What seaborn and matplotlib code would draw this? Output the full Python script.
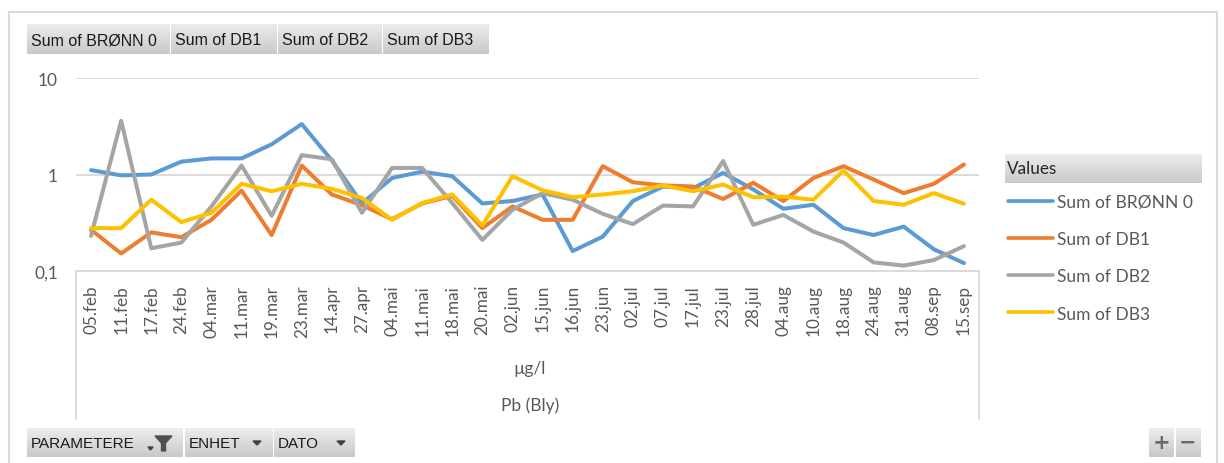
import numpy as np
import pandas as pd
import matplotlib
matplotlib.use("Agg")
import matplotlib.pyplot as plt
from matplotlib.patches import Polygon, Rectangle
from matplotlib.lines import Line2D
import seaborn as sns

# ---------------- data ----------------
dates = ['05.feb', '11.feb', '17.feb', '24.feb', '04.mar', '11.mar', '19.mar', '23.mar',
         '14.apr', '27.apr', '04.mai', '11.mai', '18.mai', '20.mai', '02.jun', '15.jun',
         '16.jun', '23.jun', '02.jul', '07.jul', '17.jul', '23.jul', '28.jul', '04.aug',
         '10.aug', '18.aug', '24.aug', '31.aug', '08.sep', '15.sep']
bronn0 = [1.11, 0.98, 1.00, 1.36, 1.47, 1.47, 2.06, 3.34, 1.40, 0.50, 0.92, 1.07, 0.96, 0.50,
          0.53, 0.62, 0.16, 0.226, 0.53, 0.75, 0.72, 1.04, 0.70, 0.44, 0.485, 0.277, 0.235,
          0.287, 0.167, 0.12]
db1 = [0.266, 0.151, 0.25, 0.223, 0.338, 0.68, 0.235, 1.24, 0.62, 0.48, 0.343, 0.50, 0.60,
       0.277, 0.466, 0.338, 0.338, 1.22, 0.83, 0.77, 0.75, 0.556, 0.82, 0.53, 0.92, 1.22,
       0.886, 0.64, 0.80, 1.27]
db2 = [0.23, 3.62, 0.171, 0.196, 0.466, 1.24, 0.372, 1.59, 1.44, 0.40, 1.17, 1.17, 0.505,
       0.209, 0.43, 0.64, 0.547, 0.39, 0.305, 0.475, 0.466, 1.38, 0.30, 0.38, 0.255, 0.196,
       0.122, 0.113, 0.129, 0.18]
db3 = [0.277, 0.277, 0.547, 0.32, 0.40, 0.80, 0.67, 0.80, 0.71, 0.57, 0.338, 0.505, 0.62,
       0.295, 0.96, 0.685, 0.58, 0.62, 0.67, 0.77, 0.67, 0.786, 0.58, 0.59, 0.547, 1.10,
       0.53, 0.485, 0.64, 0.497]
series_names = ['Sum of BRØNN 0', 'Sum of DB1', 'Sum of DB2', 'Sum of DB3']
series_colors = ['#5B9BD5', '#ED7D31', '#A5A5A5', '#FFC000']
y_ticks = [0.1, 1, 10]
y_ticklabels = ['0,1', '1', '10']
unit_label = 'µg/l'
param_label = 'Pb (Bly)'
top_buttons = series_names
bottom_buttons = ['PARAMETERE', 'ENHET', 'DATO']

df = pd.DataFrame({'idx': np.arange(len(dates)), 'dato': dates,
                   series_names[0]: bronn0, series_names[1]: db1,
                   series_names[2]: db2, series_names[3]: db3})
long = df.melt(id_vars=['idx', 'dato'], value_vars=series_names,
               var_name='serie', value_name='verdi')

# ---------------- figure ----------------
sns.set_theme(style='white')
plt.rcParams['font.family'] = ['Lato', 'DejaVu Sans']
W, H = 1224, 464
fig = plt.figure(figsize=(W / 100, H / 100), dpi=100)
fig.patch.set_facecolor('white')


def fx(x):
    return x / W


def fy(y):
    return 1 - y / H


TXT = '#595959'
GRID = '#d9d9d9'

ax_left, ax_right, ax_top, ax_bot = 76, 979, 79.3, 271.7
ax = fig.add_axes([fx(ax_left), fy(ax_bot), (ax_right - ax_left) / W, (ax_bot - ax_top) / H])

sns.lineplot(data=long, x='idx', y='verdi', hue='serie', hue_order=series_names,
             palette=series_colors, linewidth=2.9, ax=ax, legend=True, sort=False)
for ln in ax.get_lines():
    ln.set_solid_joinstyle('round')
    ln.set_solid_capstyle('round')

ax.set_yscale('log')
ax.set_ylim(0.1, 10)
ax.set_xlim(-0.5, len(dates) - 0.5)
ax.set_yticks(y_ticks)
ax.set_yticklabels(y_ticklabels)
ax.yaxis.set_minor_locator(matplotlib.ticker.NullLocator())
ax.set_xticks(np.arange(len(dates)))
ax.set_xticklabels(dates, rotation=90, va='top', ha='center')
ax.tick_params(axis='x', length=0, pad=9.5, labelsize=12.3, labelcolor=TXT)
ax.tick_params(axis='y', length=0, pad=13, labelsize=12.5, labelcolor=TXT)
ax.set_xlabel('')
ax.set_ylabel('')
ax.grid(axis='y', which='major', color=GRID, linewidth=1.3)
ax.grid(axis='x', visible=False)
for s in ax.spines.values():
    s.set_visible(False)
ax.set_facecolor('none')

# legend
handles, labels = ax.get_legend_handles_labels()
ax.get_legend().remove()
leg_handles = [Line2D([0], [0], color=c, lw=2.6, solid_capstyle='round') for c in series_colors]
leg = fig.legend(leg_handles, series_names, loc='upper left',
                 bbox_to_anchor=(fx(1008), fy(195)), frameon=False, fontsize=12.5,
                 handlelength=2.6, handletextpad=0.2, labelspacing=1.22,
                 borderpad=0, borderaxespad=0, labelcolor=TXT)

# axis category box (pivot chart multi-level axis)
for (x0, y0, x1, y1) in [(ax_left, ax_bot, ax_left, 420), (ax_left, ax_bot, ax_right, ax_bot),
                         (ax_right, ax_bot, ax_right, 420)]:
    fig.add_artist(Line2D([fx(x0), fx(x1)], [fy(y0), fy(y1)], color=GRID, lw=1.3))

fig.text(fx(530), fy(369), unit_label, ha='center', va='center', fontsize=12.5, color=TXT)
fig.text(fx(530), fy(406), param_label, ha='center', va='center', fontsize=12.5, color=TXT)

# outer border
fig.add_artist(Rectangle((fx(9), fy(480)), fx(1217) - fx(9), fy(13) - fy(480),
                         fill=False, edgecolor=GRID, lw=1.5))

grad = np.linspace(0, 1, 64).reshape(-1, 1)
cmap = matplotlib.colors.LinearSegmentedColormap.from_list('btn', ['#ededed', '#c9c9c9'])


def button(x0, y0, x1, y1):
    bax = fig.add_axes([fx(x0), fy(y1), (x1 - x0) / W, (y1 - y0) / H])
    bax.imshow(grad, aspect='auto', cmap=cmap, extent=(0, 1, 1, 0), vmin=0, vmax=1)
    bax.set_axis_off()
    return bax


BTN_FONT = ['Liberation Sans', 'DejaVu Sans']
# top field buttons
top_x = [(27, 170), (171, 277), (278, 382), (383, 488)]
for (x0, x1), lab in zip(top_x, top_buttons):
    button(x0, 25, x1, 55)
    fig.text(fx(x0 + 4), fy(40.5), lab, ha='left', va='center', fontsize=11.5,
             color='#1a1a1a', family=BTN_FONT)

# legend header
button(1005, 155, 1202, 183.5)
fig.text(fx(1007), fy(169.5), 'Values', ha='left', va='center', fontsize=12.3,
         color='#262626')

# bottom field buttons
bot_x = [(27, 183), (184.5, 272.5), (274, 354)]
for (x0, x1), lab in zip(bot_x, bottom_buttons):
    button(x0, 429, x1, 458)
    fig.text(fx(x0 + 4), fy(444), lab, ha='left', va='center', fontsize=11,
             color='#1a1a1a', family=BTN_FONT)

ICON = '#404040'
# filter funnel
fig.add_artist(Polygon([(fx(155), fy(437)), (fx(172), fy(437)), (fx(165.5), fy(444)),
                        (fx(165.5), fy(452)), (fx(161.5), fy(452)), (fx(161.5), fy(444))],
                       closed=True, color='#505050', transform=fig.transFigure))
fig.add_artist(Polygon([(fx(148), fy(448)), (fx(153), fy(448)), (fx(150.5), fy(451))],
                       closed=True, color=ICON, transform=fig.transFigure))
for cx in (257, 341):
    fig.add_artist(Polygon([(fx(cx - 4), fy(442)), (fx(cx + 4), fy(442)), (fx(cx), fy(446))],
                           closed=True, color=ICON, transform=fig.transFigure))

# zoom buttons
button(1149, 429, 1174, 458)
button(1175.5, 429, 1200, 458)
fig.text(fx(1161.5), fy(443), '+', ha='center', va='center', fontsize=15,
         color='#6a6a6a', family=['DejaVu Sans'], fontweight='bold')
fig.text(fx(1187.8), fy(443), '−', ha='center', va='center', fontsize=15,
         color='#6a6a6a', family=['DejaVu Sans'], fontweight='bold')

fig.savefig('out.png', dpi=100, facecolor='white')
